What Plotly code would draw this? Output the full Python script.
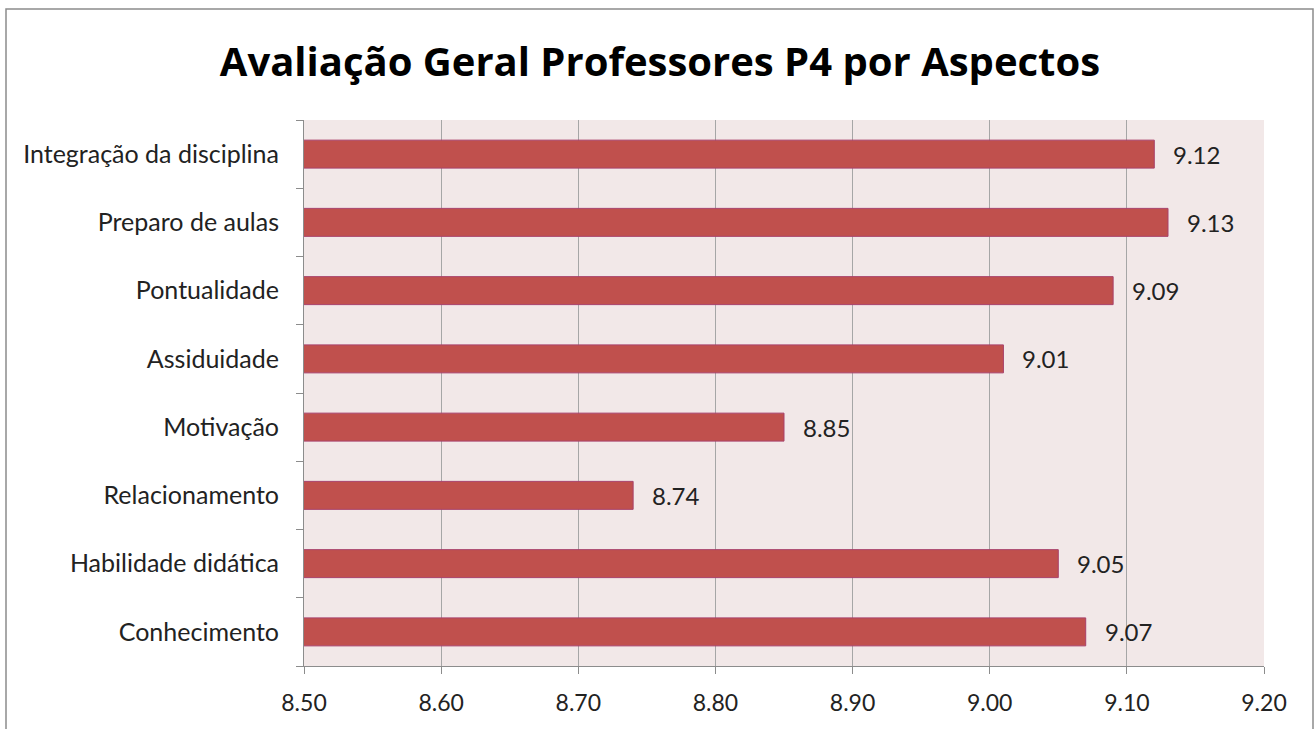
import plotly.graph_objects as go

# Aspect scores, listed bottom to top as drawn on the category axis
aspectos = [
    "Conhecimento",
    "Habilidade didática",
    "Relacionamento",
    "Motivação",
    "Assiduidade",
    "Pontualidade",
    "Preparo de aulas",
    "Integração da disciplina",
]
notas = [9.07, 9.05, 8.74, 8.85, 9.01, 9.09, 9.13, 9.12]

x_ticks = [8.50, 8.60, 8.70, 8.80, 8.90, 9.00, 9.10, 9.20]
x_tick_text = [f"{v:.2f}" for v in x_ticks]

FONT = "Lato, Calibri, Carlito, sans-serif"
TITLE_FONT = "'Open Sans', Calibri, sans-serif"
W, H = 1316, 729
L, R, T, B = 304, 52, 120, 63

fig = go.Figure()
fig.add_trace(go.Bar(
    y=aspectos,
    x=notas,
    base=0,
    orientation="h",
    marker=dict(color="#C0504D", line=dict(color="#A8416A", width=1)),
    hoverinfo="x+y",
))

# value labels to the right of each bar
for a, v in zip(aspectos, notas):
    fig.add_annotation(
        x=v, y=a, xref="x", yref="y",
        text=f"{v:.2f}", showarrow=False,
        xanchor="left", yanchor="middle", xshift=17,
        font=dict(family=FONT, size=24, color="#222222"),
    )

# outer chart frame
pw, ph = W - L - R, H - T - B
fig.add_shape(
    type="rect", xref="paper", yref="paper",
    x0=(6 - L) / pw, x1=(1313 - L) / pw,
    y0=(H - B - 760) / ph, y1=(H - B - 9) / ph,
    line=dict(color="#8C8C8C", width=1.5), fillcolor="rgba(0,0,0,0)", layer="below",
)

fig.update_layout(
    width=W, height=H,
    margin=dict(l=L, r=R, t=T, b=B),
    paper_bgcolor="white",
    plot_bgcolor="#F2E8E8",
    bargap=0.59,
    showlegend=False,
    title=dict(
        text="<b>Avaliação Geral Professores P4 por Aspectos</b>",
        x=(220 + 1100) / 2 / W, xanchor="center", xref="container",
        y=1 - 62 / H, yanchor="middle", yref="container",
        font=dict(family=TITLE_FONT, size=40, color="#000000"),
    ),
    font=dict(family=FONT, size=23, color="#222222"),
)

fig.update_xaxes(
    range=[8.5, 9.2],
    tickvals=x_ticks, ticktext=x_tick_text,
    showgrid=True, gridcolor="#A6A6A6", gridwidth=1,
    showline=True, linecolor="#8C8C8C", linewidth=1, mirror=False,
    ticks="outside", ticklen=7, tickcolor="#8C8C8C",
    ticklabelstandoff=9,
    zeroline=False,
    tickfont=dict(family=FONT, size=23, color="#222222"),
)
fig.update_yaxes(
    categoryorder="array", categoryarray=aspectos,
    showgrid=False,
    showline=True, linecolor="#8C8C8C", linewidth=1,
    ticks="outside", ticklen=7, tickcolor="#8C8C8C",
    tickson="boundaries",
    ticklabelstandoff=19,
    tickfont=dict(family=FONT, size=25, color="#222222"),
)

fig.write_html("out.html")
